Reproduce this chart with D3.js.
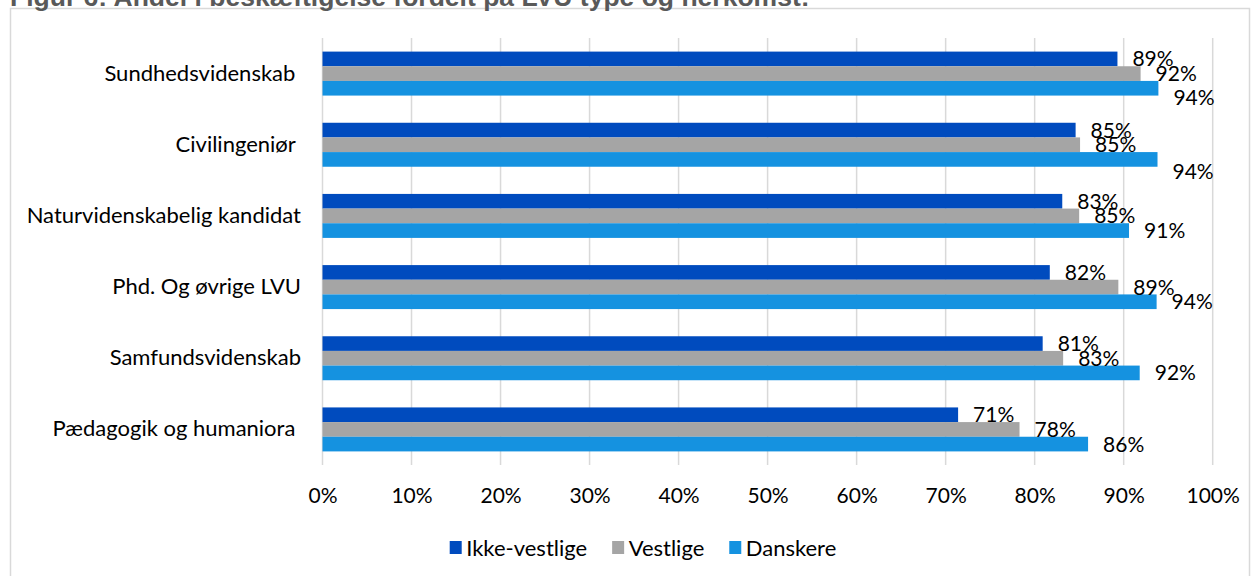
<!DOCTYPE html>
<html>
<head>
<meta charset="utf-8">
<script src="https://cdn.jsdelivr.net/npm/d3@7"></script>
<style>
  body { margin: 0; background: #fff; }
  svg { display: block; }
  text { font-family: Lato, "Open Sans", sans-serif; fill: #000; white-space: pre; }
</style>
</head>
<body>
<svg width="1256" height="576"></svg>
<script>
// chart data
const categories = [
  "Sundhedsvidenskab ",
  "Civilingeniør ",
  "Naturvidenskabelig kandidat",
  "Phd. Og øvrige LVU",
  "Samfundsvidenskab",
  "Pædagogik og humaniora "
];
const seriesNames = ["Ikke-vestlige", "Vestlige", "Danskere"];
const ikkeVestlige = [89.3, 84.6, 83.1, 81.7, 80.9, 71.4];
const vestlige     = [91.9, 85.1, 85.0, 89.4, 83.2, 78.3];
const danskere     = [93.9, 93.8, 90.6, 93.7, 91.8, 86.0];
const xTicks = [0, 10, 20, 30, 40, 50, 60, 70, 80, 90, 100];

const colors = ["#004bbe", "#a5a5a5", "#1592e0"];
// a couple of labels were nudged down in the original so they don't collide
const labelNudge = {"Sundhedsvidenskab |Danskere": 9, "Civilingeniør |Danskere": 12};

const svg = d3.select("svg");

// frame + title (title is cut off at the top of the picture)
svg.append("rect")
  .attr("x", 10.5).attr("y", 8.5)
  .attr("width", 1239).attr("height", 600)
  .attr("fill", "none")
  .attr("stroke", "#d9d9d9")
  .attr("stroke-width", 1.5);

svg.append("text")
  .attr("x", 10).attr("y", 6)
  .style("font-family", "'Liberation Sans', Arial, sans-serif")
  .style("font-weight", "bold")
  .style("font-size", "26.5px")
  .style("fill", "#595959")
  .text("Figur 6: Andel i beskæftigelse fordelt på LVU type og herkomst:");

const x = d3.scaleLinear().domain([0, 100]).range([322.5, 1212.7]);

const y0 = d3.scaleBand()
  .domain(categories)
  .range([38, 465])
  .paddingInner(0.382)
  .paddingOuter(0.191);

const y1 = d3.scaleBand()
  .domain(seriesNames)
  .range([0, y0.bandwidth()]);

// gridlines
svg.append("g")
  .selectAll("line")
  .data(xTicks)
  .join("line")
  .attr("x1", d => x(d)).attr("x2", d => x(d))
  .attr("y1", 38).attr("y2", 465)
  .attr("stroke", "#d9d9d9")
  .attr("stroke-width", 1.5);

// x axis labels
const xAxis = svg.append("g")
  .attr("transform", "translate(0,465)")
  .call(d3.axisBottom(x).tickValues(xTicks).tickFormat(d => d + "%").tickSize(0).tickPadding(23));
xAxis.select(".domain").remove();
xAxis.selectAll("text")
  .style("font-family", "Lato, sans-serif")
  .style("font-size", "21px")
  .attr("fill", "#000");

// category labels
const yAxis = svg.append("g")
  .attr("transform", "translate(301,0)")
  .call(d3.axisLeft(y0).tickSize(0).tickPadding(0));
yAxis.select(".domain").remove();
yAxis.selectAll("text")
  .style("font-family", "Lato, sans-serif")
  .style("font-size", "22px")
  .style("white-space", "pre")
  .attr("fill", "#000");

// rows of bars
const rows = categories.map((c, i) => ({
  cat: c,
  vals: [ikkeVestlige[i], vestlige[i], danskere[i]].map((v, j) => ({cat: c, key: seriesNames[j], value: v, color: colors[j]}))
}));

const group = svg.append("g")
  .selectAll("g")
  .data(rows)
  .join("g")
  .attr("transform", d => `translate(0,${y0(d.cat)})`);

group.selectAll("rect")
  .data(d => d.vals)
  .join("rect")
  .attr("x", x(0))
  .attr("y", d => y1(d.key))
  .attr("width", d => x(d.value) - x(0))
  .attr("height", y1.bandwidth())
  .attr("fill", d => d.color);

group.selectAll("text.lbl")
  .data(d => d.vals)
  .join("text")
  .attr("class", "lbl")
  .attr("x", d => x(d.value) + 15)
  .attr("y", d => y1(d.key) + y1.bandwidth() / 2 + (labelNudge[d.cat + "|" + d.key] || 0))
  .attr("dy", "0.36em")
  .style("font-size", "21px")
  .text(d => Math.round(d.value) + "%");

// legend
const legend = svg.append("g").attr("transform", "translate(0,548)");
const items = legend.selectAll("g")
  .data(seriesNames)
  .join("g");
items.append("rect")
  .attr("y", -7)
  .attr("width", 12).attr("height", 13)
  .attr("fill", (d, i) => colors[i]);
items.append("text")
  .attr("x", 16.5)
  .attr("dy", "0.36em")
  .style("font-size", "22px")
  .text(d => d);

let cursor = 0;
const offsets = [];
items.each(function() {
  offsets.push(cursor);
  const w = this.querySelector("text").getComputedTextLength();
  cursor += 16.5 + w + 25;
});
const total = cursor - 25;
const start = 643 - total / 2;
items.attr("transform", (d, i) => `translate(${start + offsets[i]},0)`);
</script>
</body>
</html>
